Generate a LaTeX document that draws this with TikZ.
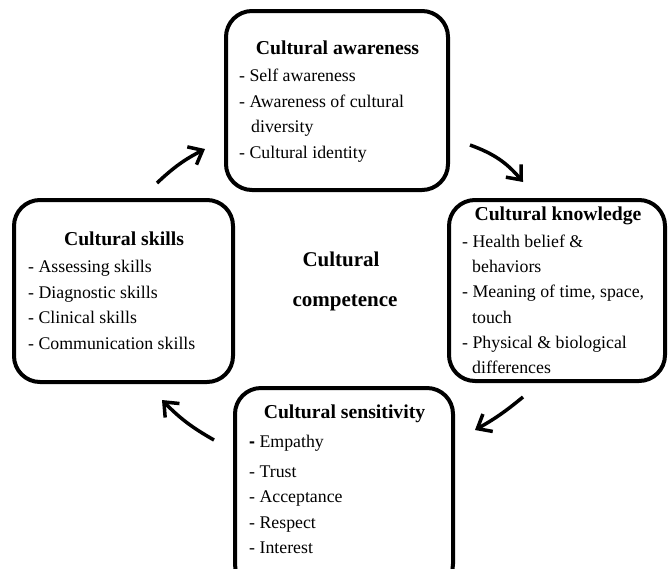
\documentclass[tikz,border=0pt]{standalone}
\usepackage{fontspec}
\setmainfont{Liberation Serif}
\newfontfamily\dashfont{Liberation Sans}
\usetikzlibrary{arrows.meta,positioning}

\tikzset{
  box/.style={draw,line width=4pt,rounded corners=26pt,inner sep=0pt},
  head/.style={anchor=base,inner sep=0pt,font=\fontsize{19.7}{22}\selectfont\bfseries},
  item/.style={anchor=base west,inner sep=0pt,font=\fontsize{17.8}{20}\selectfont},
  centre/.style={anchor=base,inner sep=0pt,font=\fontsize{21}{24}\selectfont\bfseries},
  cyc/.style={line width=3.5pt,-{Straight Barb[length=12pt,width=20pt]}},
}

\begin{document}
\begin{tikzpicture}[x=1pt,y=-1pt]
  \useasboundingbox (0,0) rectangle (668,568);
  % the four boxes
  \node[box,minimum width=222pt,minimum height=179pt] (aware) at (337,100.5) {};
  \node[box,minimum width=216pt,minimum height=181pt] (know) at (557,290.5) {};
  \node[box,minimum width=218pt,minimum height=202pt] (sens) at (344,489) {};
  \node[box,minimum width=219pt,minimum height=182pt] (skill) at (123.5,291) {};
  % awareness
  \node[head] (aware-t) at (337.5,54) {Cultural awareness};
  \node[item] (aware-1) at (239,81) {- Self awareness};
  \node[item] (aware-2) at (239,107) {- Awareness of cultural};
  \node[item] (aware-3) at (251,132) {diversity};
  \node[item] (aware-4) at (239,158) {- Cultural identity};
  % knowledge
  \node[head] (know-t) at (558,220) {Cultural knowledge};
  \node[item] (know-1) at (462,247) {- Health belief \&};
  \node[item] (know-2) at (472,272) {behaviors};
  \node[item] (know-3) at (462,297) {- Meaning of time, space,};
  \node[item] (know-4) at (472,323) {touch};
  \node[item] (know-5) at (462,348) {- Physical \& biological};
  \node[item] (know-6) at (472,373) {differences};
  % sensitivity
  \node[head] (sens-t) at (344.5,418) {Cultural sensitivity};
  \node[item] (sens-1) at (249,447) {{\dashfont\bfseries -} Empathy};
  \node[item] (sens-2) at (249,477) {- Trust};
  \node[item] (sens-3) at (249,502) {- Acceptance};
  \node[item] (sens-4) at (249,528) {- Respect};
  \node[item] (sens-5) at (249,553) {- Interest};
  % skills
  \node[head] (skill-t) at (124,245) {Cultural skills};
  \node[item] (skill-1) at (28,272) {- Assessing skills};
  \node[item] (skill-2) at (28,298) {- Diagnostic skills};
  \node[item] (skill-3) at (28,323) {- Clinical skills};
  \node[item] (skill-4) at (28,349) {- Communication skills};
  % middle
  \node[centre] (comp-1) at (341,266) {Cultural};
  \node[centre] (comp-2) at (345,306) {competence};
  % arrow ends
  \coordinate (sk-a) at (157,183);
  \coordinate (a-sk) at (205,149);
  \coordinate (a-k) at (470,145);
  \coordinate (k-a) at (523,182);
  \coordinate (k-s) at (523,397);
  \coordinate (s-k) at (475,430);
  \coordinate (s-sk) at (214,440);
  \coordinate (sk-s) at (162,400);
  \draw[cyc] (sk-a) to[bend left=8] (a-sk);
  \draw[cyc] (a-k) to[bend left=15] (k-a);
  \draw[cyc] (k-s) to[bend left=5] (s-k);
  \draw[cyc] (s-sk) to[bend left=8] (sk-s);
\end{tikzpicture}
\end{document}
